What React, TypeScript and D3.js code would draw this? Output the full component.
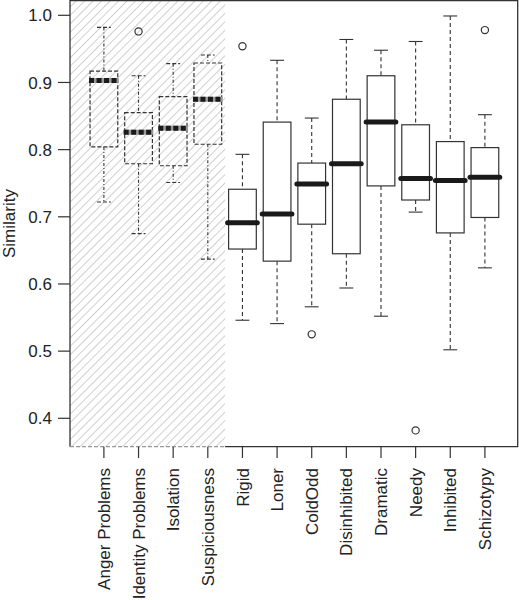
import React from "react";
import * as d3 from "d3";

const categories = ["Anger Problems","Identity Problems","Isolation","Suspiciousness","Rigid","Loner","ColdOdd","Disinhibited","Dramatic","Needy","Inhibited","Schizotypy"];
const hatched = [true, true, true, true, false, false, false, false, false, false, false, false];
const lowerWhisker = [0.722, 0.675, 0.751, 0.637, 0.546, 0.541, 0.566, 0.594, 0.552, 0.707, 0.502, 0.624];
const q1 = [0.804, 0.779, 0.776, 0.808, 0.652, 0.634, 0.689, 0.645, 0.746, 0.725, 0.676, 0.699];
const medians = [0.903, 0.826, 0.832, 0.875, 0.691, 0.704, 0.749, 0.779, 0.841, 0.757, 0.754, 0.759];
const q3 = [0.917, 0.855, 0.879, 0.929, 0.741, 0.841, 0.780, 0.875, 0.910, 0.837, 0.812, 0.803];
const upperWhisker = [0.982, 0.910, 0.928, 0.941, 0.793, 0.933, 0.847, 0.964, 0.948, 0.961, 0.999, 0.852];
const outlierCat = [1, 4, 6, 9, 11];
const outlierVal = [0.976, 0.954, 0.525, 0.382, 0.978];
const yTicks = [0.4, 0.5, 0.6, 0.7, 0.8, 0.9, 1.0];

export default function App() {
  const W = 519, H = 600;
  const left = 70, right = 517.7, top = 0.5, bottom = 446.7;
  const y = d3.scaleLinear().domain([0.4, 1.0]).range([418.3, 15.3]);
  const x = d3.scaleLinear().domain([1, 12]).range([103.9, 484.9]);
  const step = x(2) - x(1);
  const hw = 0.4 * step;
  const cw = 0.5 * hw;
  const hatchRight = x(4.5);
  const font = "'Liberation Sans', Arial, sans-serif";
  const dark = "#222";

  return (
    <svg width={W} height={H} style={{ position: "absolute", left: 0, top: 0 }}>
      <defs>
        <pattern id="hatch" patternUnits="userSpaceOnUse" width={6} height={6} patternTransform="rotate(45)">
          <line x1={0} y1={0} x2={0} y2={6} stroke="#b0b0b0" strokeWidth={1.2} />
        </pattern>
      </defs>
      <rect x={0} y={0} width={W} height={H} fill="white" />
      <rect x={left} y={top} width={hatchRight - left} height={bottom - top} fill="url(#hatch)" />
      {/* frame */}
      <path d={`M${hatchRight},${bottom} L${right},${bottom} L${right},${top} L${left},${top} L${left},${bottom}`} fill="none" stroke="#333" strokeWidth={1.3} />
      <line x1={left} x2={hatchRight} y1={bottom} y2={bottom} stroke="#999" strokeWidth={1.3} strokeDasharray="4,2" />

      {/* y axis */}
      {yTicks.map((t) => (
        <g key={t}>
          <line x1={58} x2={left} y1={y(t)} y2={y(t)} stroke="#333" strokeWidth={1.2} />
          <text x={52} y={y(t)} dy="0.36em" textAnchor="end" fontFamily={font} fontSize={17} fill={dark}>{t.toFixed(1)}</text>
        </g>
      ))}
      <text transform={`translate(15,${(top + bottom) / 2}) rotate(-90)`} textAnchor="middle" fontFamily={font} fontSize={17} fill={dark}>Similarity</text>

      {/* x axis */}
      {categories.map((c, i) => (
        <g key={c}>
          <line x1={x(i + 1)} x2={x(i + 1)} y1={bottom} y2={458} stroke="#333" strokeWidth={1.2} />
          <text transform={`translate(${x(i + 1)},${468}) rotate(-90)`} textAnchor="end" dy="0.36em" fontFamily={font} fontSize={17} fill={dark}>{c}</text>
        </g>
      ))}

      {/* boxes */}
      {categories.map((c, i) => {
        const cx = x(i + 1);
        const h = hatched[i];
        const whiskDash = h ? "3,2,1,2" : "4,3";
        const boxDash = h ? "4,2" : undefined;
        return (
          <g key={"b" + c}>
            <line x1={cx} x2={cx} y1={y(upperWhisker[i])} y2={y(q3[i])} stroke="#333" strokeWidth={1.1} strokeDasharray={whiskDash} />
            <line x1={cx} x2={cx} y1={y(q1[i])} y2={y(lowerWhisker[i])} stroke="#333" strokeWidth={1.1} strokeDasharray={whiskDash} />
            <line x1={cx - cw} x2={cx + cw} y1={y(upperWhisker[i])} y2={y(upperWhisker[i])} stroke="#333" strokeWidth={1.1} strokeDasharray={boxDash} />
            <line x1={cx - cw} x2={cx + cw} y1={y(lowerWhisker[i])} y2={y(lowerWhisker[i])} stroke="#333" strokeWidth={1.1} strokeDasharray={boxDash} />
            <rect x={cx - hw} y={y(q3[i])} width={2 * hw} height={y(q1[i]) - y(q3[i])} fill={h ? "none" : "white"} stroke="#333" strokeWidth={1.2} strokeDasharray={boxDash} />
            {h ? (
              <>
                <line x1={cx - hw - 1} x2={cx + hw + 1} y1={y(medians[i])} y2={y(medians[i])} stroke="#9a9a9a" strokeWidth={5} />
                <line x1={cx - hw - 1} x2={cx + hw + 1} y1={y(medians[i])} y2={y(medians[i])} stroke="#1a1a1a" strokeWidth={5} strokeDasharray="5,2.5" />
              </>
            ) : (
              <line x1={cx - hw - 1} x2={cx + hw + 1} y1={y(medians[i])} y2={y(medians[i])} stroke="#1a1a1a" strokeWidth={5} strokeLinecap="round" />
            )}
          </g>
        );
      })}
      {outlierCat.map((ci, k) => (
        <circle key={"o" + k} cx={x(ci + 1)} cy={y(outlierVal[k])} r={3.6} fill="none" stroke="#333" strokeWidth={1.2} />
      ))}
    </svg>
  );
}
